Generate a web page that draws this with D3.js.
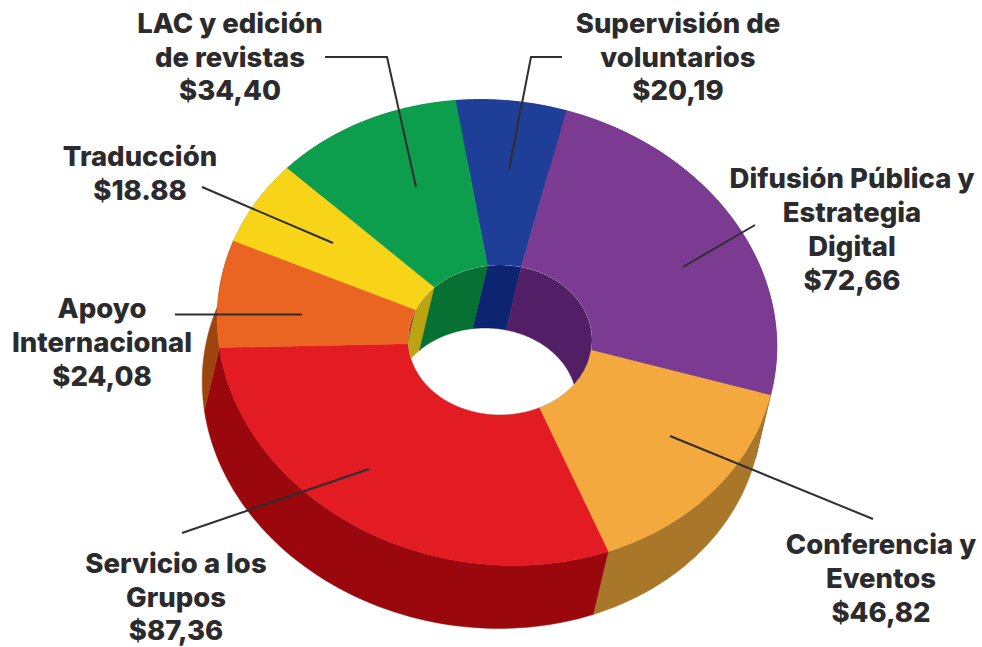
<!DOCTYPE html>
<html>
<head>
<meta charset="utf-8">
<script src="https://cdn.jsdelivr.net/npm/d3@7"></script>
<style>
  html, body { margin: 0; padding: 0; background: #fff; }
  svg { display: block; }
  text { font-family: Inter, sans-serif; font-weight: 800; font-size: 27.5px; fill: #2b2a2c; text-anchor: middle; }
</style>
</head>
<body>
<div id="chart"></div>
<script>
// clockwise from the blue wedge
const categories = [
  ['Supervisión de', 'voluntarios'],
  ['Difusión Pública y', 'Estrategia', 'Digital'],
  ['Conferencia y', 'Eventos'],
  ['Servicio a los', 'Grupos'],
  ['Apoyo', 'Internacional'],
  ['Traducción'],
  ['LAC y edición', 'de revistas']
];
const amountLabels = ['$20,19', '$72,66', '$46,82', '$87,36', '$24,08', '$18.88', '$34,40'];
// wedge sizes (%), the artwork is not strictly proportional to the amounts
const wedgeShares = [5.9, 23.5, 15.8, 31.2, 7.4, 5.8, 10.4];

const topColors = ['#1f3e97', '#7b3b92', '#f3a93d', '#e31b23', '#ea6522', '#f7d417', '#0c9e4c'];
const outerWallColors = ['#14286a', '#512363', '#a9772a', '#9a070d', '#9e450f', '#a8900f', '#076b33'];
const innerWallColors = ['#0d2470', '#521f66', '#a9772a', '#9a070d', '#9e450f', '#bba313', '#077033'];

// label placement: centre x, first baseline, line step + leader line
const labelLayout = [
  { x: 678, y: 33, step: 33.5, leader: [[562, 57], [531, 57], [509, 170]] },
  { x: 852, y: 188, step: 34, leader: [[755, 225], [683, 267]] },
  { x: 881, y: 554, step: 34, leader: [[873, 519], [670, 436]] },
  { x: 176, y: 573, step: 33.5, leader: [[182, 533], [369, 469]] },
  { x: 102, y: 318, step: 34, leader: [[175, 314.5], [302, 314.5]] },
  { x: 140, y: 166, step: 34, leader: [[202, 187], [333, 243]] },
  { x: 230, y: 33, step: 33.5, leader: [[325, 57], [387, 57], [416, 187]] }
];

const width = 982, height = 647;
const depth = { x: -15, y: 63 };
const outerRing = { cx: 497, cy: 350, rx: 279, ry: 231.2, k: -0.0753, skew: 0.05 };
const innerRing = { cx: 500, cy: 340, rx: 92, ry: 75, k: 0, skew: 0 };

const svg = d3.select('#chart').append('svg')
  .attr('width', width)
  .attr('height', height);

const slices = d3.pie()
  .sort(null)
  .startAngle(-7.9 * Math.PI / 180)
  .endAngle((360 - 7.9) * Math.PI / 180)
  .value(d => d)(wedgeShares);

const outline = d3.line();

function ringPoint(ring, a) {
  const u = Math.sin(a), v = -Math.cos(a);
  const d = 1 - ring.k * v;
  const dx = ring.rx * u / d;
  return [ring.cx + dx, ring.cy + ring.ry * v / d + ring.skew * dx];
}

function arcPoints(ring, a0, a1) {
  const n = 60;
  return d3.range(n + 1).map(i => ringPoint(ring, a0 + (a1 - a0) * i / n));
}

function shifted(points) {
  return points.map(p => [p[0] + depth.x, p[1] + depth.y]);
}

function wallPath(ring, d) {
  const arc = arcPoints(ring, d.startAngle, d.endAngle);
  return outline(arc.concat(shifted(arc).reverse())) + 'Z';
}

function facePath(d) {
  const outer = arcPoints(outerRing, d.startAngle, d.endAngle);
  const inner = arcPoints(innerRing, d.endAngle, d.startAngle);
  return outline(outer.concat(inner)) + 'Z';
}

const fullInner = arcPoints(innerRing, 0, 2 * Math.PI);

svg.append('defs').append('clipPath')
  .attr('id', 'hole-clip')
  .append('path')
  .attr('d', outline(fullInner) + 'Z');

// outer walls
svg.append('g').selectAll('path')
  .data(slices)
  .join('path')
  .attr('d', d => wallPath(outerRing, d))
  .attr('fill', (d, i) => outerWallColors[i])
  .attr('stroke', (d, i) => outerWallColors[i])
  .attr('stroke-width', 0.5);

// top faces
svg.append('g').selectAll('path')
  .data(slices)
  .join('path')
  .attr('d', facePath)
  .attr('fill', (d, i) => topColors[i])
  .attr('stroke', (d, i) => topColors[i])
  .attr('stroke-width', 0.5);

// hole and its inside walls
svg.append('path')
  .attr('d', outline(fullInner) + 'Z')
  .attr('fill', '#fff');

svg.append('g')
  .attr('clip-path', 'url(#hole-clip)')
  .selectAll('path')
  .data(slices)
  .join('path')
  .attr('d', d => wallPath(innerRing, d))
  .attr('fill', (d, i) => innerWallColors[i])
  .attr('stroke', (d, i) => innerWallColors[i])
  .attr('stroke-width', 0.5);

// leader lines
svg.append('g').selectAll('path')
  .data(labelLayout)
  .join('path')
  .attr('d', d => outline(d.leader))
  .attr('fill', 'none')
  .attr('stroke', '#2f2e30')
  .attr('stroke-width', 2);

// labels
const labels = svg.append('g').selectAll('text')
  .data(categories)
  .join('text')
  .attr('x', (d, i) => labelLayout[i].x)
  .attr('y', (d, i) => labelLayout[i].y);

labels.selectAll('tspan')
  .data((d, i) => d.concat(amountLabels[i]).map(t => ({ t, i })))
  .join('tspan')
  .attr('x', d => labelLayout[d.i].x)
  .attr('dy', (d, j) => j === 0 ? 0 : labelLayout[d.i].step)
  .text(d => d.t);
</script>
</body>
</html>
